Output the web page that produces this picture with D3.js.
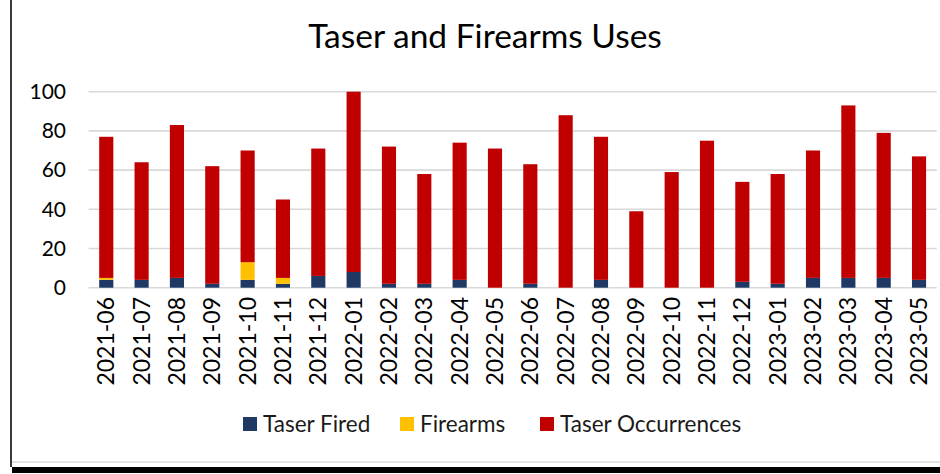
<!DOCTYPE html>
<html>
<head>
<meta charset="utf-8">
<script src="https://cdn.jsdelivr.net/npm/d3@7"></script>
<style>
  body { margin: 0; background: #fff; }
  svg { display: block; }
</style>
</head>
<body>
<svg class="chart" width="940" height="474"></svg>
<script>
var months = ['2021-06', '2021-07', '2021-08', '2021-09', '2021-10', '2021-11', '2021-12',
  '2022-01', '2022-02', '2022-03', '2022-04', '2022-05', '2022-06', '2022-07', '2022-08',
  '2022-09', '2022-10', '2022-11', '2022-12', '2023-01', '2023-02', '2023-03', '2023-04', '2023-05'];
var taserFired = [4, 4, 5, 2, 4, 2, 6, 8, 2, 2, 4, 0, 2, 0, 4, 0, 0, 0, 3, 2, 5, 5, 5, 4];
var firearms = [1, 0, 0, 0, 9, 3, 0, 0, 0, 0, 0, 0, 0, 0, 0, 0, 0, 0, 0, 0, 0, 0, 0, 0];
var taserOccurrences = [72, 60, 78, 60, 57, 40, 65, 92, 70, 56, 70, 71, 61, 88, 73, 39, 59, 75, 51, 56, 65, 88, 74, 63];
var yTicks = [0, 20, 40, 60, 80, 100];

var seriesNames = ['Taser Fired', 'Firearms', 'Taser Occurrences'];
var colors = ['#1f3864', '#ffc000', '#c00000'];

/* table for the stack */
var data = months.map(function (m, i) {
  return { month: m, fired: taserFired[i], firearms: firearms[i], occ: taserOccurrences[i] };
});
var stacked = d3.stack().keys(['fired', 'firearms', 'occ'])(data);

var svg = d3.select('.chart');
var calibri = 'Lato, "Open Sans", sans-serif';

/* frame */
svg.append('line')
  .attr('x1', 12).attr('x2', 940).attr('y1', 462).attr('y2', 462)
  .attr('stroke', '#d9d9d9').attr('stroke-width', 1.5);
svg.append('rect')
  .attr('x', 12).attr('y', 467).attr('width', 928).attr('height', 6)
  .attr('fill', '#000');
svg.append('line')
  .attr('x1', 11).attr('x2', 11).attr('y1', 0).attr('y2', 467)
  .attr('stroke', '#3a3a3a').attr('stroke-width', 2);

/* scales */
var x = d3.scaleBand()
  .domain(months)
  .range([88.6, 936.7])
  .paddingInner(0.6)
  .paddingOuter(0.3);

var y = d3.scaleLinear()
  .domain([0, 100])
  .range([287.7, 91.7]);

/* gridlines */
svg.append('g')
  .selectAll('line')
  .data(yTicks)
  .join('line')
  .attr('x1', 88.6).attr('x2', 936.7)
  .attr('y1', function (d) { return y(d); })
  .attr('y2', function (d) { return y(d); })
  .attr('stroke', '#d9d9d9')
  .attr('stroke-width', 1.6);

/* bars */
svg.append('g')
  .selectAll('g.bars')
  .data(stacked)
  .join('g')
  .classed('bars', true)
  .attr('fill', function (d, i) { return colors[i]; })
  .selectAll('rect')
  .data(function (d) { return d; })
  .join('rect')
  .attr('x', function (d) { return x(d.data.month); })
  .attr('y', function (d) { return y(d[1]); })
  .attr('width', x.bandwidth())
  .attr('height', function (d) { return y(d[0]) - y(d[1]); });

/* y axis */
var yAxis = d3.axisLeft(y).tickValues(yTicks).tickSize(0).tickPadding(0);
var yg = svg.append('g')
  .attr('transform', 'translate(66,0)')
  .call(yAxis);
yg.select('.domain').remove();
yg.selectAll('text')
  .attr('font-family', calibri)
  .attr('font-size', 21)
  .attr('fill', '#000');

/* x axis */
var xAxis = d3.axisBottom(x).tickSize(0).tickPadding(0);
var xg = svg.append('g')
  .attr('transform', 'translate(0,288)')
  .call(xAxis);
xg.select('.domain').remove();
xg.selectAll('text')
  .attr('font-family', calibri)
  .attr('font-size', 23)
  .attr('fill', '#000')
  .attr('text-anchor', 'end')
  .attr('dy', null)
  .attr('y', 0)
  .attr('transform', 'translate(8,9) rotate(-90)');

/* title */
svg.append('text')
  .attr('x', 485).attr('y', 48)
  .attr('text-anchor', 'middle')
  .attr('font-family', calibri)
  .attr('font-size', 33.5)
  .attr('fill', '#000')
  .text('Taser and Firearms Uses');

/* legend */
var legendX = [243, 400, 540];
var lg = svg.append('g').selectAll('g')
  .data(seriesNames)
  .join('g')
  .attr('transform', function (d, i) { return 'translate(' + legendX[i] + ',417)'; });
lg.append('rect')
  .attr('width', 14).attr('height', 14)
  .attr('fill', function (d, i) { return colors[i]; });
lg.append('text')
  .attr('x', 20).attr('y', 15)
  .attr('font-family', calibri)
  .attr('font-size', 22.5)
  .attr('fill', '#1a1a1a')
  .text(function (d) { return d; });
</script>
</body>
</html>
